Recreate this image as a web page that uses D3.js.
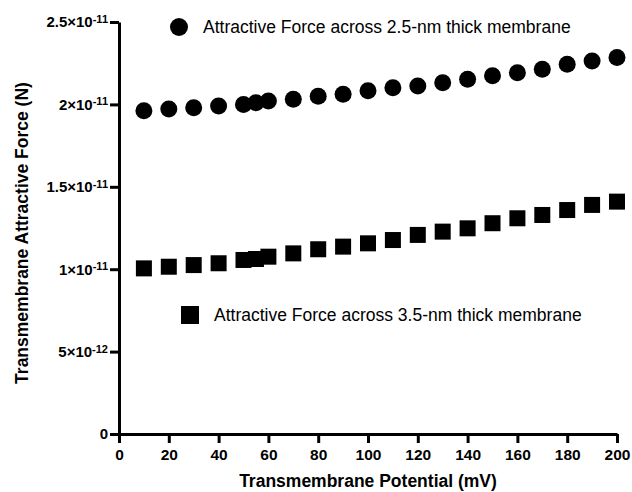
<!DOCTYPE html>
<html>
<head>
<meta charset="utf-8">
<script src="https://cdn.jsdelivr.net/npm/d3@7"></script>
<style>
  body { margin: 0; background: #fff; }
  svg text { font-family: "Liberation Sans", Arial, sans-serif; }
</style>
</head>
<body>
<div id="chart"></div>
<script>
const width = 632;
const height = 492;
const margin = { top: 22, right: 15, bottom: 58, left: 119 };

// transmembrane potential (mV)
const potentials = [10, 20, 30, 40, 50, 55, 60, 70, 80, 90, 100, 110, 120, 130, 140, 150, 160, 170, 180, 190, 200];
// force across 2.5-nm membrane (N)
const force25 = [1.962e-11, 1.972e-11, 1.980e-11, 1.990e-11, 2.000e-11, 2.010e-11, 2.020e-11, 2.031e-11, 2.050e-11, 2.061e-11, 2.083e-11,
  2.101e-11, 2.112e-11, 2.132e-11, 2.152e-11, 2.174e-11, 2.192e-11, 2.213e-11, 2.243e-11, 2.263e-11, 2.284e-11];
// force across 3.5-nm membrane (N)
const force35 = [1.005e-11, 1.015e-11, 1.025e-11, 1.036e-11, 1.056e-11, 1.062e-11, 1.076e-11, 1.096e-11, 1.121e-11, 1.137e-11, 1.157e-11,
  1.177e-11, 1.208e-11, 1.228e-11, 1.248e-11, 1.279e-11, 1.309e-11, 1.329e-11, 1.359e-11, 1.390e-11, 1.410e-11];

const xTicks = [0, 20, 40, 60, 80, 100, 120, 140, 160, 180, 200];
const yTicks = [0, 5e-12, 1e-11, 1.5e-11, 2e-11, 2.5e-11];
const yTickMantissa = ["0", "5", "1", "1.5", "2", "2.5"];
const yTickExponent = [null, "-12", "-11", "-11", "-11", "-11"];

const legendLabels = ["Attractive Force across 2.5-nm thick membrane", "Attractive Force across 3.5-nm thick membrane"];
const xTitle = "Transmembrane Potential (mV)";
const yTitle = "Transmembrane Attractive Force (N)";

const svg = d3.select("#chart").append("svg")
  .attr("width", width)
  .attr("height", height);

const x = d3.scaleLinear().domain([0, 200]).range([margin.left, width - margin.right]);
const y = d3.scaleLinear().domain([0, 2.5e-11]).range([height - margin.bottom, margin.top]);

// x axis
const xAxis = svg.append("g")
  .attr("transform", `translate(0,${y(0)})`)
  .call(d3.axisBottom(x).tickValues(xTicks).tickSize(9).tickSizeOuter(0).tickPadding(6).tickFormat(d3.format("d")));
xAxis.select(".domain").attr("stroke-width", 3);
xAxis.selectAll(".tick line").attr("stroke-width", 3);
xAxis.selectAll(".tick text")
  .attr("font-size", 15.5)
  .attr("font-weight", "bold")
  .attr("font-family", "Liberation Sans, Arial, sans-serif")
  .attr("fill", "#000");

// y axis
const yAxis = svg.append("g")
  .attr("transform", `translate(${x(0)},0)`)
  .call(d3.axisLeft(y).tickValues(yTicks).tickSize(9).tickSizeOuter(0).tickPadding(2).tickFormat(() => ""));
yAxis.select(".domain").attr("stroke-width", 3);
yAxis.selectAll(".tick line").attr("stroke-width", 3);
yAxis.selectAll(".tick text").each(function (d, i) {
  const t = d3.select(this)
    .attr("font-size", 15)
    .attr("font-weight", "bold")
    .attr("font-family", "Liberation Sans, Arial, sans-serif")
    .attr("fill", "#000");
  if (yTickExponent[i] === null) {
    t.text(yTickMantissa[i]);
  } else {
    t.append("tspan").text(yTickMantissa[i] + "\u00d710");
    t.append("tspan").attr("font-size", 11).attr("dy", "-0.4em").text(yTickExponent[i]);
  }
});

// axis titles
svg.append("text")
  .attr("x", (x(0) + x(200)) / 2)
  .attr("y", 487)
  .attr("text-anchor", "middle")
  .attr("font-size", 17.5)
  .attr("font-weight", "bold")
  .text(xTitle);

svg.append("text")
  .attr("transform", `translate(28,${(y(0) + y(2.5e-11)) / 2 + 5}) rotate(-90)`)
  .attr("text-anchor", "middle")
  .attr("font-size", 17.5)
  .attr("font-weight", "bold")
  .text(yTitle);

// series: circles
svg.append("g").selectAll("circle")
  .data(potentials)
  .join("circle")
  .attr("cx", (d) => x(d))
  .attr("cy", (d, i) => y(force25[i]))
  .attr("r", 8.5)
  .attr("fill", "#000");

// series: squares
const sq = 16;
svg.append("g").selectAll("rect")
  .data(potentials)
  .join("rect")
  .attr("x", (d) => x(d) - sq / 2)
  .attr("y", (d, i) => y(force35[i]) - sq / 2)
  .attr("width", sq)
  .attr("height", sq)
  .attr("fill", "#000");

// legends
svg.append("circle").attr("cx", 179).attr("cy", 27).attr("r", 9).attr("fill", "#000");
svg.append("text").attr("x", 203).attr("y", 33).attr("font-size", 17.5).text(legendLabels[0]);

svg.append("rect").attr("x", 181).attr("y", 306).attr("width", 18).attr("height", 18).attr("fill", "#000");
svg.append("text").attr("x", 214).attr("y", 321).attr("font-size", 17.5).text(legendLabels[1]);
</script>
</body>
</html>
